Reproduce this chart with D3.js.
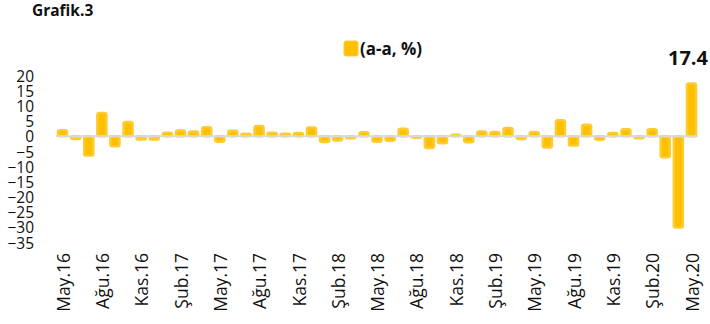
<!DOCTYPE html>
<html>
<head>
<meta charset="utf-8">
<script src="https://cdn.jsdelivr.net/npm/d3@7"></script>
<style>
  html, body { margin: 0; padding: 0; background: #fff; }
  svg { display: block; font-family: "Open Sans", "DejaVu Sans", sans-serif; }
</style>
</head>
<body>
<svg id="chart" width="710" height="324"></svg>
<script>
// Monthly year-on-year change, May 2016 – May 2020
const months = [
  "May.16","Haz.16","Tem.16","Ağu.16","Eyl.16","Eki.16","Kas.16","Ara.16",
  "Oca.17","Şub.17","Mar.17","Nis.17","May.17","Haz.17","Tem.17","Ağu.17","Eyl.17","Eki.17","Kas.17","Ara.17",
  "Oca.18","Şub.18","Mar.18","Nis.18","May.18","Haz.18","Tem.18","Ağu.18","Eyl.18","Eki.18","Kas.18","Ara.18",
  "Oca.19","Şub.19","Mar.19","Nis.19","May.19","Haz.19","Tem.19","Ağu.19","Eyl.19","Eki.19","Kas.19","Ara.19",
  "Oca.20","Şub.20","Mar.20","Nis.20","May.20"
];
const values = [
  2.0, -0.9, -6.4, 7.7, -3.3, 4.7, -1.1, -1.1,
  1.2, 1.9, 1.6, 3.0, -1.8, 1.8, 0.8, 3.4, 1.2, 0.8, 1.1, 2.9,
  -1.9, -1.4, -0.7, 1.3, -1.8, -1.5, 2.5, -0.5, -3.9, -2.3, 0.5, -2.0,
  1.6, 1.4, 2.7, -0.9, 1.4, -3.7, 5.3, -3.1, 3.8, -1.2, 1.1, 2.3,
  -0.7, 2.3, -6.9, -30.1, 17.4
];
const shownMonths = [
  "May.16","Ağu.16","Kas.16","Şub.17","May.17","Ağu.17","Kas.17","Şub.18","May.18",
  "Ağu.18","Kas.18","Şub.19","May.19","Ağu.19","Kas.19","Şub.20","May.20"
];
const yTicks = [20, 15, 10, 5, 0, -5, -10, -15, -20, -25, -30, -35];
const seriesName = "(a-a, %)";
const chartTitle = "Grafik.3";

const svg = d3.select("#chart");
const barColor = "#FFC000";
const barEdge = "#FFCB33";

const x = d3.scaleBand()
  .domain(months)
  .range([56, 698])
  .paddingInner(0.3)
  .paddingOuter(0.15);

const y = d3.scaleLinear()
  .domain([-35, 20])
  .range([242.5, 75.5]);

// title
svg.append("text")
  .attr("x", 32).attr("y", 16)
  .attr("font-size", 15.5).attr("font-weight", 700)
  .attr("fill", "#111")
  .text(chartTitle);

// legend
const legend = svg.append("g").attr("transform", "translate(344,41)");
legend.append("rect")
  .attr("width", 14).attr("height", 15).attr("rx", 2)
  .attr("fill", barColor).attr("stroke", barEdge).attr("stroke-width", 1);
legend.append("text")
  .attr("x", 16).attr("y", 13.5)
  .attr("font-size", 17).attr("font-weight", 700)
  .attr("fill", "#111")
  .text(seriesName);

// y axis labels (no line, no ticks)
const yAxis = d3.axisLeft(y).tickValues(yTicks).tickSize(0).tickPadding(0);
const yg = svg.append("g").attr("transform", "translate(34,0)").call(yAxis);
yg.select(".domain").remove();
yg.selectAll("text")
  .attr("font-size", 15.5)
  .attr("font-family", "'Open Sans', sans-serif")
  .attr("fill", "#111")
  .attr("dy", "0.36em");

// bars with soft rounded edges
svg.append("g").selectAll("rect")
  .data(months.map((m, i) => ({ m, v: values[i] })))
  .join("rect")
  .attr("x", d => x(d.m))
  .attr("width", x.bandwidth())
  .attr("y", d => Math.min(y(d.v), y(0)))
  .attr("height", d => Math.abs(y(d.v) - y(0)))
  .attr("rx", 2)
  .attr("fill", barColor)
  .attr("stroke", barEdge)
  .attr("stroke-width", 2.4)
  .attr("stroke-linejoin", "round");

// zero line
svg.append("line")
  .attr("x1", 56).attr("x2", 698)
  .attr("y1", y(0)).attr("y2", y(0))
  .attr("stroke", "#D9D9D9").attr("stroke-width", 2);

// x axis labels, every third month
const xAxis = d3.axisBottom(x).tickValues(shownMonths).tickSize(0).tickPadding(0);
const xg = svg.append("g").attr("transform", "translate(1,253)").call(xAxis);
xg.select(".domain").remove();
xg.selectAll("text")
  .attr("font-size", 17.5)
  .attr("font-family", "'Open Sans', sans-serif")
  .attr("fill", "#111")
  .attr("text-anchor", "end")
  .attr("transform", "rotate(-90)")
  .attr("x", 0)
  .attr("y", 0)
  .attr("dx", 0)
  .attr("dy", "0.35em");

// value label on the last bar
const last = months.length - 1;
svg.append("text")
  .attr("x", 708)
  .attr("y", y(values[last]) - 18)
  .attr("text-anchor", "end")
  .attr("font-size", 20).attr("font-weight", 700)
  .attr("fill", "#111")
  .text(values[last].toFixed(1));
</script>
</body>
</html>
